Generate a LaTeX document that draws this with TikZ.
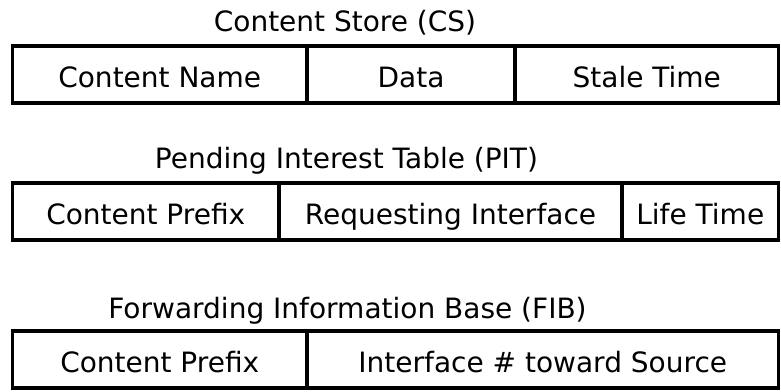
\documentclass[tikz,border=0pt]{standalone}
\usepackage{fontspec}
\setmainfont{DejaVu Sans}
\begin{document}
\begin{tikzpicture}[x=1pt,y=-1pt,
  cell/.style={draw=black, line width=3.5pt, anchor=north west,
    minimum height=57pt, inner sep=0pt, outer sep=0pt,
    text height=25pt, text depth=0pt, font=\fontsize{28}{32}\selectfont},
  title/.style={anchor=base, inner sep=0pt, font=\fontsize{28}{32}\selectfont}]
\useasboundingbox (0,0) rectangle (781,391);

% Content Store
\node[title] (cst) at (345,31) {Content Store (CS)};
\node[cell, minimum width=294.5pt] (csname)  at (12.5,46) {Content Name};
\node[cell, minimum width=208pt]   (csdata)  at (307,46)  {Data};
\node[cell, minimum width=263.5pt] (csstale) at (515,46)  {Stale Time};

% Pending Interest Table
\node[title] (pitt) at (346.5,168) {Pending Interest Table (PIT)};
\node[cell, minimum width=266.5pt] (pitpre)  at (12.5,183) {Content Prefix};
\node[cell, minimum width=343pt]   (pitreq)  at (279,183)  {Requesting Interface};
\node[cell, minimum width=156.5pt] (pitlife) at (622,183)  {Life Time};

% Forwarding Information Base
\node[title] (fibt) at (347.5,318) {Forwarding Information Base (FIB)};
\node[cell, minimum width=294.5pt] (fibpre) at (12.5,331) {Content Prefix};
\node[cell, minimum width=471.5pt] (fibif)  at (307,331)  {Interface \# toward Source};
\end{tikzpicture}
\end{document}
